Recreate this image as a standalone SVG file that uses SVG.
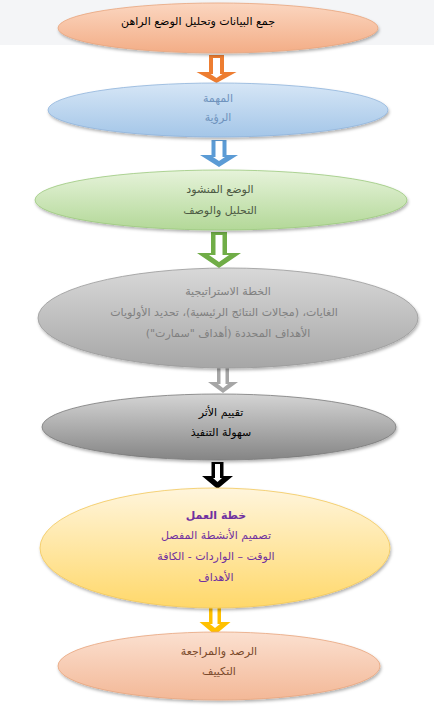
<svg xmlns="http://www.w3.org/2000/svg" width="434" height="716" viewBox="0 0 434 716">
<style>
text{font-family:"DejaVu Sans","Noto Sans",sans-serif;font-size:11px;text-anchor:middle;direction:rtl}
.in{fill:#fff}
</style>
<defs>
<linearGradient id="gOr" x1="0" y1="0" x2="0" y2="1"><stop offset="0" stop-color="#fbd6c0"/><stop offset="1" stop-color="#f3ad86"/></linearGradient>
<linearGradient id="gBl" x1="0" y1="0" x2="0" y2="1"><stop offset="0" stop-color="#d6e6f6"/><stop offset="1" stop-color="#a4c6e8"/></linearGradient>
<linearGradient id="gGr" x1="0" y1="0" x2="0" y2="1"><stop offset="0" stop-color="#e6f3da"/><stop offset="1" stop-color="#b3d898"/></linearGradient>
<linearGradient id="gGy" x1="0" y1="0" x2="0" y2="1"><stop offset="0" stop-color="#d8d8d8"/><stop offset="1" stop-color="#a6a6a6"/></linearGradient>
<linearGradient id="gDk" x1="0" y1="0" x2="0" y2="1"><stop offset="0" stop-color="#d4d4d4"/><stop offset="1" stop-color="#858585"/></linearGradient>
<linearGradient id="gYe" x1="0" y1="0" x2="0" y2="1"><stop offset="0" stop-color="#fff5dc"/><stop offset="1" stop-color="#ffd86a"/></linearGradient>
<linearGradient id="gPe" x1="0" y1="0" x2="0" y2="1"><stop offset="0" stop-color="#fbe0d0"/><stop offset="1" stop-color="#f3b897"/></linearGradient>
<filter id="sh" x="-10%" y="-20%" width="120%" height="150%"><feDropShadow dx="1" dy="2" stdDeviation="1.5" flood-color="#000" flood-opacity="0.3"/></filter>
</defs>
<rect x="0" y="0" width="434" height="716" fill="#fff"/>
<rect x="0" y="0" width="434" height="45" fill="#f4f5f7"/>

<g id="connectors">
<path fill="#ed7d31" d="M209 55 H224 V72 H236.5 L216.5 83 L196.5 72 H209 Z"/>
<path class="in" d="M213 58 H220 V74 H222.5 L216.5 78 L210.5 74 H213 Z"/>
<path fill="#5b9bd5" d="M211.5 140 H226.5 V155 H238 L219 167 L200 155 H211.5 Z"/>
<path class="in" d="M215.5 141 H222.5 V157 H225 L219 161 L213 157 H215.5 Z"/>
<path fill="#70ad47" d="M211 232 H227 V253 H241 L219 268 L197 253 H211 Z"/>
<path class="in" d="M215.5 235 H222.5 V255 H229 L219 262 L209 255 H215.5 Z"/>
<path fill="#a6a6a6" d="M217 368 H229 V382 H238 L223 393 L208 382 H217 Z"/>
<path class="in" d="M220.5 368 H225.5 V384 H228 L223 388 L218 384 H220.5 Z"/>
<path fill="#000" d="M211.5 462 H223.5 V476 H233 L217.5 489 L202 476 H211.5 Z"/>
<path class="in" d="M215 464 H220 V478 H222 L217.5 482 L213 478 H215 Z"/>
<path fill="#ffc000" d="M209 605 H221 V622 H230.5 L215 635 L199.5 622 H209 Z"/>
<path class="in" d="M212.5 607 H217.5 V624 H220 L215 628 L210 624 H212.5 Z"/>
</g>

<g id="n1">
<ellipse cx="218" cy="28" rx="160" ry="25" fill="url(#gOr)" stroke="#e9a47c" stroke-width="0.8" filter="url(#sh)"/>
<text x="198" y="25" fill="#000">جمع البيانات وتحليل الوضع الراهن</text>
</g>
<g id="n2">
<ellipse cx="218" cy="110" rx="170" ry="27" fill="url(#gBl)" stroke="#8fb4dc" stroke-width="0.8" filter="url(#sh)"/>
<text x="218" y="102" fill="#6f93bd">المهمة</text>
<text x="218" y="121" fill="#6f93bd">الرؤية</text>
</g>
<g id="n3">
<ellipse cx="221" cy="200" rx="186" ry="30" fill="url(#gGr)" stroke="#9cc97d" stroke-width="0.8" filter="url(#sh)"/>
<text x="220" y="193" fill="#4d5a44">الوضع المنشود</text>
<text x="220" y="214" fill="#4d5a44">التحليل والوصف</text>
</g>
<g id="n4">
<ellipse cx="228" cy="318" rx="190" ry="50" fill="url(#gGy)" stroke="#999" stroke-width="0.8" filter="url(#sh)"/>
<text x="228" y="295" fill="#808080">الخطة الاستراتيجية</text>
<text x="224" y="316" fill="#808080">الغايات، (مجالات النتائج الرئيسية)، تحديد الأولويات</text>
<text x="228" y="337" fill="#808080">الأهداف المحددة (أهداف "سمارت")</text>
</g>
<g id="n5">
<ellipse cx="219" cy="427" rx="177" ry="33" fill="url(#gDk)" stroke="#7a7a7a" stroke-width="0.8" filter="url(#sh)"/>
<text x="221" y="416" fill="#000">تقييم الأثر</text>
<text x="221" y="436" fill="#000">سهولة التنفيذ</text>
</g>
<g id="n6">
<ellipse cx="215" cy="548" rx="175" ry="60" fill="url(#gYe)" stroke="#f2c85a" stroke-width="0.8" filter="url(#sh)"/>
<text x="216" y="519" fill="#7030a0" font-weight="bold">خطة العمل</text>
<text x="216" y="539" fill="#7030a0">تصميم الأنشطة المفصل</text>
<text x="216" y="560" fill="#7030a0">الوقت – الواردات - الكافة</text>
<text x="216" y="581" fill="#7030a0">الأهداف</text>
</g>
<g id="n7">
<ellipse cx="219" cy="666" rx="161" ry="34" fill="url(#gPe)" stroke="#e9a47c" stroke-width="0.8" filter="url(#sh)"/>
<text x="219" y="655" fill="#7a4a2c">الرصد والمراجعة</text>
<text x="219" y="675" fill="#7a4a2c">التكييف</text>
</g>
</svg>
